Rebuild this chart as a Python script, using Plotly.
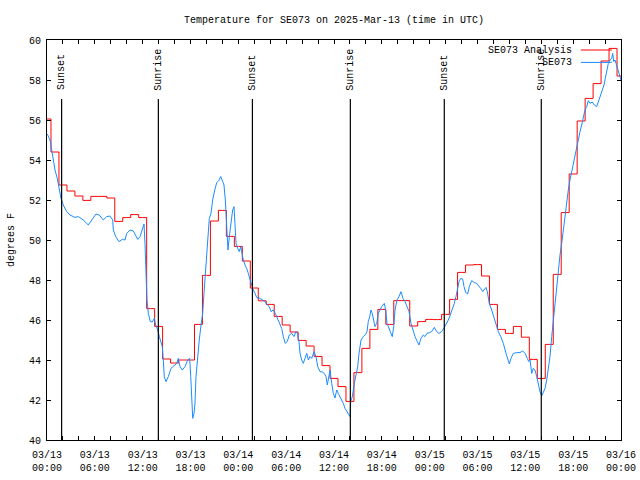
import datetime as dt
import plotly.graph_objects as go

# ---------------- data ----------------
START = dt.datetime(2025, 3, 13, 0, 0)
END = dt.datetime(2025, 3, 16, 0, 0)

title_text = "Temperature for SE073 on 2025-Mar-13 (time in UTC)"
y_title = "degrees F"
analysis_name = "SE073 Analysis"
obs_name = "SE073"

# Hourly analysis values (hour 0 .. 72)
analysis_hours = list(range(0, 73))
analysis_temps = [
    56.05, 54.4, 52.75, 52.45, 52.2, 51.98, 52.18, 52.18, 52.1, 50.93,
    51.12, 51.27, 51.12, 46.57, 45.68, 44.05, 43.85, 44.0, 44.0, 45.78,
    48.23, 50.95, 51.48, 50.18, 49.68, 48.95, 47.6, 46.96, 46.78, 46.18,
    45.75, 45.4, 44.98, 44.7, 44.18, 43.72, 43.08, 42.67, 41.93, 43.37,
    44.58, 45.53, 46.53, 45.78, 46.97, 46.97, 45.7, 45.92, 46.03, 46.02,
    46.28, 47.03, 48.38, 48.75, 48.77, 48.2, 46.78, 45.53, 45.33, 45.68,
    45.14, 44.03, 43.08, 44.78, 48.28, 51.37, 53.3, 55.95, 57.08, 57.82,
    58.95, 59.58, 58.2,
]

# Observations: hours since 03/13 00:00 UTC and temperature
obs_hours = [
    0.04, 0.38, 0.59, 0.79, 1.0, 1.29, 1.54, 1.76, 2.04, 2.47, 2.89, 3.51, 3.93,
    4.55, 5.18, 5.61, 6.15, 6.56, 7.06, 7.49, 7.90, 8.24, 8.32, 8.62, 9.03, 9.45,
    9.78, 10.0, 10.41, 10.83, 11.13, 11.38, 11.67, 11.95, 12.17, 12.29, 12.42,
    12.54, 12.71, 12.96, 13.21, 13.46, 13.63, 13.89, 14.09, 14.30, 14.46, 14.59,
    14.71, 14.93, 15.22, 15.55, 15.97, 16.27, 16.47, 16.68, 16.97, 17.31, 17.65,
    17.90, 18.03, 18.15, 18.28, 18.44, 18.56, 18.69, 18.85, 19.10, 19.32, 19.53,
    19.69, 19.86, 20.03, 20.20, 20.36, 20.57, 20.78, 21.04, 21.29, 21.54, 21.79,
    22.04, 22.20, 22.37, 22.54, 22.70, 22.87, 23.04, 23.29, 23.46, 23.58, 23.71,
    23.92, 24.12, 24.30, 24.46, 24.62, 24.84, 25.05, 25.25, 25.46, 25.63, 25.80,
    26.09, 26.30, 26.72, 27.06, 27.35, 27.63, 27.88, 28.10, 28.39, 28.64, 28.89,
    29.14, 29.44, 29.64, 29.89, 30.14, 30.39, 30.69, 30.98, 31.23, 31.40, 31.61,
    31.74, 31.95, 32.15, 32.36, 32.58, 32.78, 32.99, 33.20, 33.49, 33.74, 33.96,
    34.24, 34.53, 34.78, 35.00, 35.16, 35.34, 35.50, 35.71, 35.91, 36.13, 36.34,
    36.54, 36.88, 37.17, 37.38, 37.72, 38.01, 38.09, 38.30, 38.55, 38.72, 38.97,
    39.14, 39.39, 39.68, 39.98, 40.14, 40.30, 40.48, 40.64, 40.80, 40.98, 41.14,
    41.36, 41.56, 41.77, 41.98, 42.31, 42.48, 42.65, 42.90, 43.15, 43.31, 43.49,
    43.65, 43.90, 44.15, 44.40, 44.65, 44.91, 45.16, 45.41, 45.66, 45.87, 46.16,
    46.45, 46.66, 46.91, 47.20, 47.41, 47.66, 47.95, 48.25, 48.58, 48.88, 49.17,
    49.51, 49.84, 50.14, 50.34, 50.59, 50.84, 51.09, 51.30, 51.52, 51.68, 51.89,
    52.14, 52.31, 52.52, 52.77, 52.97, 53.27, 53.60, 53.90, 54.10, 54.40, 54.65,
    54.90, 55.07, 55.23, 55.48, 55.78, 56.07, 56.32, 56.61, 56.91, 57.24, 57.58,
    57.86, 57.99, 58.20, 58.49, 58.92, 59.33, 59.67, 59.96, 60.25, 60.42, 60.59,
    60.80, 61.00, 61.21, 61.43, 61.63, 61.84, 62.05, 62.25, 62.47, 62.68, 62.88,
    63.09, 63.31, 63.51, 63.72, 63.93, 64.14, 64.35, 64.56, 64.76, 64.98, 65.19,
    65.39, 65.60, 65.82, 66.02, 66.23, 66.44, 66.64, 66.86, 67.07, 67.27, 67.48,
    67.70, 67.90, 68.11, 68.40, 68.65, 68.95, 69.15, 69.45, 69.70, 69.87, 70.03,
    70.21, 70.41, 70.62, 70.83, 70.96, 71.09, 71.25, 71.37, 71.54, 71.71, 71.87,
    72.0,
]
obs_temps = [
    55.3, 55.0, 54.5, 54.0, 53.5, 53.08, 52.58, 52.08, 51.75, 51.42, 51.25, 51.13, 51.17,
    51.0, 50.75, 51.0, 51.3, 51.25, 51.0, 51.17, 51.2, 51.0, 50.5, 50.17, 49.92, 50.03,
    50.0, 50.33, 50.5, 50.45, 50.25, 50.03, 50.17, 50.5, 50.8, 49.83, 48.5,
    47.0, 46.33, 45.92, 45.9, 46.08, 45.75, 45.5, 45.17, 44.83, 44.67, 44.0,
    43.17, 42.92, 43.17, 43.58, 43.75, 43.83, 44.08, 43.67, 43.5, 43.67, 44.0,
    44.08, 43.17, 41.83, 41.08, 41.33, 41.8, 43.17, 44.0, 45.0, 45.75, 46.33,
    47.33, 48.33, 49.67, 50.67, 51.08, 51.33, 52.0, 52.5, 52.87, 52.97, 53.17,
    52.92, 52.75, 52.0, 50.67, 49.5, 50.17, 50.83, 51.5, 51.67, 50.67, 49.83,
    49.58, 49.42, 49.67, 49.33, 49.0, 48.75, 48.58, 48.33, 48.0, 47.75, 47.58,
    47.33, 47.13, 47.08, 47.0, 46.92, 46.75, 46.67, 46.42, 46.5, 46.33, 46.08,
    45.83, 45.58, 45.17, 44.83, 44.92, 45.25, 45.33, 45.17, 45.42, 45.33, 44.92,
    44.33, 44.0, 43.83, 44.08, 44.33, 44.0, 44.17, 44.08, 44.42, 44.17, 43.67,
    43.42, 43.4, 43.33, 43.17, 42.75, 43.17, 43.5, 42.83, 42.33, 42.1, 42.5,
    42.33, 42.08, 41.83, 41.58, 41.33, 41.17, 41.92, 42.17, 42.83, 43.17, 43.67,
    44.33, 45.0, 45.17, 45.28, 45.42, 45.92, 46.17, 46.5, 46.33, 45.92, 45.67,
    45.83, 46.33, 46.5, 46.67, 46.83, 46.5, 45.83, 45.58, 45.33, 45.17, 45.67,
    46.5, 47.0, 47.17, 47.42, 47.08, 46.92, 46.67, 46.42, 45.83, 45.5, 45.17,
    44.92, 44.75, 45.08, 45.25, 45.17, 45.33, 45.37, 45.42, 45.63, 45.42, 45.33,
    45.42, 45.63, 45.83, 46.0, 46.25, 46.5, 46.83, 47.17, 47.75, 47.92, 48.08,
    48.05, 47.67, 47.37, 47.3, 47.67, 47.97, 47.87, 47.83, 47.75, 47.58, 47.42,
    47.58, 47.63, 47.42, 46.83, 46.5, 46.08, 45.75, 45.42, 45.17, 44.83, 44.33,
    44.0, 43.8, 44.08, 44.33, 44.37, 44.37, 44.45, 44.33, 44.08, 43.92, 44.0,
    43.33, 43.58, 43.5, 43.17, 42.75, 42.42, 42.2, 42.42, 42.58, 43.0, 43.5,
    44.17, 45.17, 46.0, 47.0, 47.83, 48.67, 49.25, 49.83, 50.5, 51.08, 52.0,
    52.5, 53.0, 53.42, 53.83, 54.33, 54.67, 55.08, 55.42, 55.75, 56.17, 56.5,
    56.67, 56.97, 56.83, 56.9, 56.75, 56.67, 56.9, 57.25, 57.5, 57.75, 58.08,
    58.5, 58.83, 59.0, 59.08, 59.33, 58.92, 59.0, 58.83, 58.67, 58.33, 58.08,
    58.0,
]

# Sun events (UTC)
sun_event_times = ["2025-03-13 01:50", "2025-03-13 13:58", "2025-03-14 01:46",
                   "2025-03-14 14:03", "2025-03-15 01:50", "2025-03-15 14:00"]
sun_event_labels = ["Sunset", "Sunrise", "Sunset", "Sunrise", "Sunset", "Sunrise"]

# ---------------- figure ----------------
def to_time(h):
    return START + dt.timedelta(hours=h)

FONT = "Liberation Mono, DejaVu Sans Mono, monospace"
FS = 10
RED = "#ff0000"
BLUE = "#1a8cff"

fig = go.Figure()
fig.add_trace(go.Scatter(
    x=[to_time(h) for h in analysis_hours], y=analysis_temps,
    mode="lines", line=dict(color=RED, width=1, shape="hvh"),
    name=analysis_name,
))
fig.add_trace(go.Scatter(
    x=[to_time(h) for h in obs_hours], y=obs_temps,
    mode="lines", line=dict(color=BLUE, width=1),
    name=obs_name,
))

shapes = []
annotations = []
for t, lab in zip(sun_event_times, sun_event_labels):
    shapes.append(dict(type="line", xref="x", yref="y domain", x0=t, x1=t,
                       y0=0, y1=0.8525, line=dict(color="black", width=1.2)))
    annotations.append(dict(x=t, y=0.869, xref="x", yref="y domain",
                            text=lab, textangle=-90, showarrow=False,
                            xanchor="center", yanchor="bottom",
                            font=dict(family=FONT, size=FS, color="black")))

# legend (gnuplot style: text then sample)
for name, color, ypos in [(analysis_name, RED, 0.975), (obs_name, BLUE, 0.944)]:
    annotations.append(dict(x=0.918, y=ypos, xref="paper", yref="paper",
                            text=name, showarrow=False, xanchor="right",
                            yanchor="middle",
                            font=dict(family=FONT, size=FS, color="black")))
    shapes.append(dict(type="line", xref="paper", yref="paper",
                       x0=0.930, x1=0.984, y0=ypos, y1=ypos,
                       line=dict(color=color, width=1)))

annotations.append(dict(x=-0.0627, y=0.5, xref="paper", yref="paper",
                        text=y_title, textangle=-90, showarrow=False,
                        xanchor="center", yanchor="middle",
                        font=dict(family=FONT, size=FS, color="black")))

fig.update_layout(
    width=640, height=480,
    margin=dict(l=47, r=19, t=40, b=40, autoexpand=False),
    plot_bgcolor="white", paper_bgcolor="white",
    showlegend=False,
    font=dict(family=FONT, size=FS, color="black"),
    title=dict(text=title_text, x=334 / 640, y=1 - 19 / 480,
               xanchor="center", yanchor="middle",
               font=dict(family=FONT, size=FS, color="black")),
    shapes=shapes, annotations=annotations,
)
fig.update_xaxes(
    type="date", range=[START, END], automargin=False,
    tick0=START, dtick=6 * 3600 * 1000, tickformat="%m/%d<br>%H:%M",
    ticks="inside", ticklen=4, tickcolor="black", tickwidth=1,
    ticklabelstandoff=5,
    showline=True, linecolor="black", linewidth=1, mirror="ticks",
    showgrid=False, zeroline=False,
    minor=dict(dtick=2 * 3600 * 1000, ticks="inside", ticklen=4,
               tickcolor="black", showgrid=False),
)
fig.update_yaxes(
    range=[40, 60], dtick=2, tick0=40, automargin=False,
    ticks="inside", ticklen=4, tickcolor="black", tickwidth=1,
    ticklabelstandoff=3,
    showline=True, linecolor="black", linewidth=1, mirror="ticks",
    showgrid=False, zeroline=False,
)

fig.write_html("out.html", config={"displayModeBar": False},
               post_script="document.body.style.margin='0px';")
